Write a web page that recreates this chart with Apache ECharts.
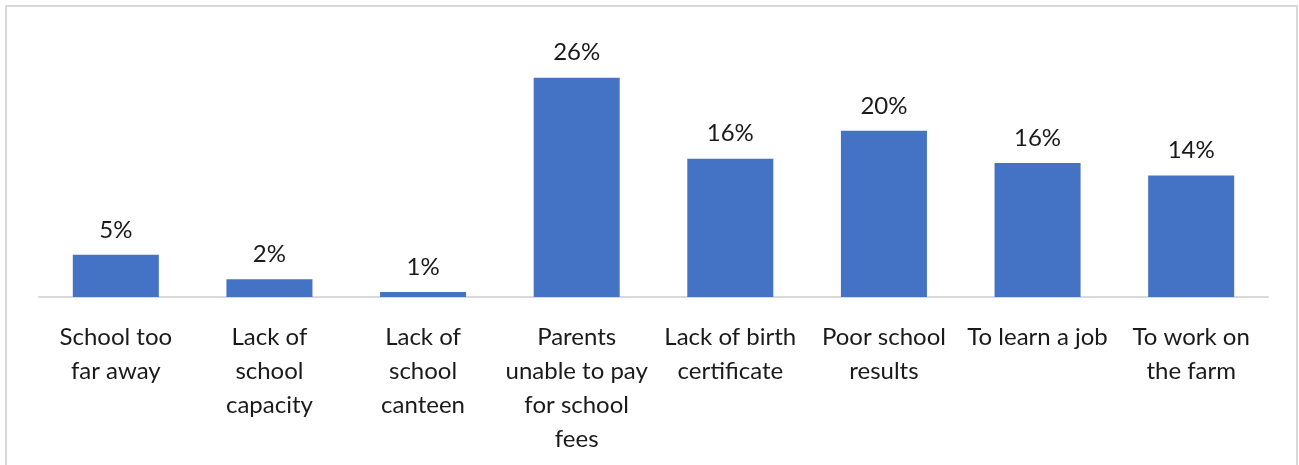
<!DOCTYPE html>
<html>
<head>
<meta charset="utf-8">
<script src="https://cdn.jsdelivr.net/npm/echarts@6/dist/echarts.min.js"></script>
<style>
html,body{margin:0;padding:0;background:#fff;}
#chart{width:1299px;height:465px;}
</style>
</head>
<body>
<div id="chart"></div>
<script>
const categories = [
  "School too\nfar away",
  "Lack of\nschool\ncapacity",
  "Lack of\nschool\ncanteen",
  "Parents\nunable to pay\nfor school\nfees",
  "Lack of birth\ncertificate",
  "Poor school\nresults",
  "To learn a job",
  "To work on\nthe farm"
];
const values = [5.0, 2.1, 0.6, 26.0, 16.4, 19.7, 15.9, 14.4];

const chart = echarts.init(document.getElementById('chart'));
chart.setOption({
  animation: false,
  textStyle: { fontFamily: 'Lato' },
  graphic: [{
    type: 'rect',
    shape: { x: 6, y: 6, width: 1291, height: 480 },
    style: { fill: 'none', stroke: '#d9d9d9', lineWidth: 2 }
  }],
  grid: { left: 39, right: 31, top: 44, bottom: 168, containLabel: false },
  xAxis: {
    type: 'category',
    data: categories,
    axisLine: { lineStyle: { color: '#d9d9d9', width: 2 } },
    axisTick: { show: false },
    axisLabel: {
      interval: 0,
      color: '#1a1a1a',
      fontSize: 24,
      lineHeight: 34,
      margin: 23,
      fontFamily: 'Lato'
    }
  },
  yAxis: {
    type: 'value',
    min: 0,
    max: 30,
    show: false,
    splitLine: { show: false }
  },
  series: [{
    type: 'bar',
    data: values,
    barWidth: '56%',
    itemStyle: { color: '#4472C4' },
    label: {
      show: true,
      position: 'top',
      distance: 13,
      color: '#1a1a1a',
      fontSize: 24,
      fontFamily: 'Lato',
      formatter: p => Math.round(p.value) + '%'
    }
  }]
});
</script>
</body>
</html>
